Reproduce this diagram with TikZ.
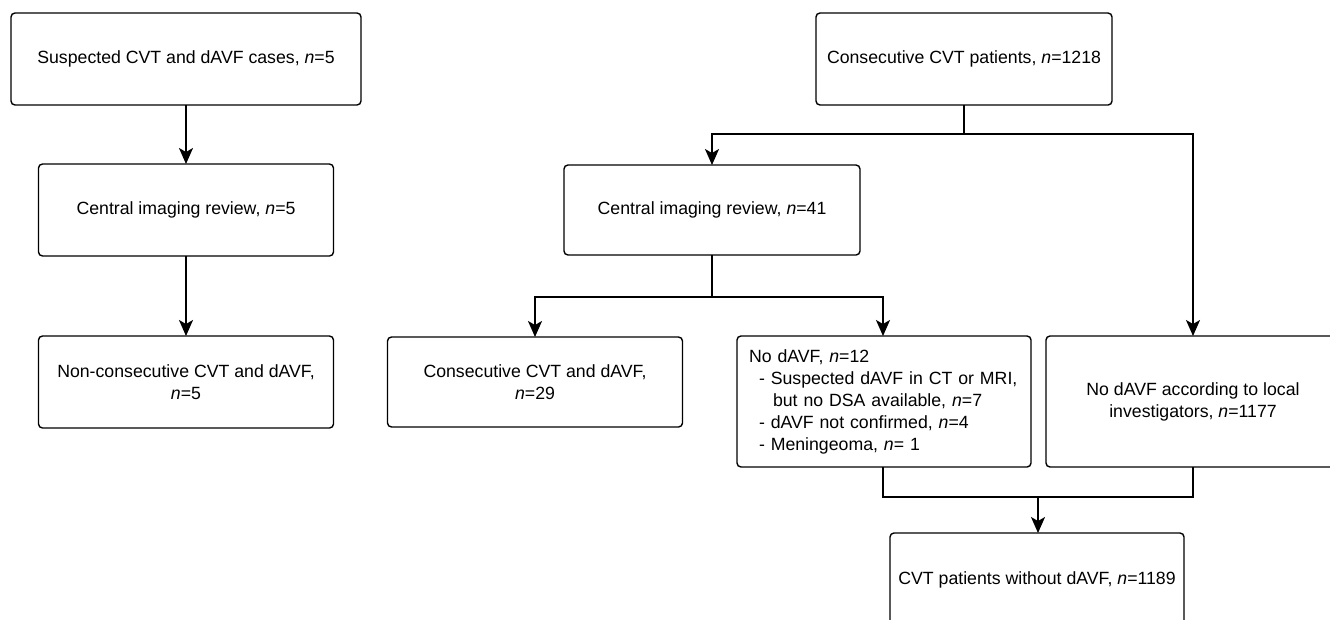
\documentclass[tikz,border=0pt]{standalone}
\usepackage{fontspec}
\setmainfont{Liberation Sans}
\usetikzlibrary{arrows.meta}
\tikzset{
  box/.style={draw, rounded corners=4pt, line width=1.4pt, outer sep=0pt, inner sep=4pt,
    align=center, font=\fontsize{17.7}{22}\selectfont, minimum width=295pt, minimum height=92pt},
  conn/.style={line width=1.8pt},
  arr/.style={conn, -{Stealth[length=16pt,width=14pt,inset=4pt]}}
}
\newcommand{\nn}{\textit{n}}
\begin{document}
\begin{tikzpicture}[x=1pt,y=-1pt]
\useasboundingbox (0,0) rectangle (1330,619);
\clip (0,0) rectangle (1330,619);
\fill[white] (0,0) rectangle (1330,619);
% left column
\node[box, minimum width=350pt] (A) at (186,59) {Suspected CVT and dAVF cases, \nn=5};
\node[box] (B) at (186,210) {Central imaging review, \nn=5};
\node[box] (C) at (186,382) {Non-consecutive CVT and dAVF,\\\nn=5};
% right part
\node[box, minimum width=296pt] (D) at (964,59) {Consecutive CVT patients, \nn=1218};
\node[box, minimum width=296pt, minimum height=90pt] (E) at (712,210) {Central imaging review, \nn=41};
\node[box, minimum height=90pt] (F) at (535,382) {Consecutive CVT and dAVF,\\\nn=29};
\node[box, minimum width=294pt, minimum height=131pt, text width=284pt, inner xsep=5pt, inner ysep=8pt, align=left] (G) at (884,401.5)
  {\hspace*{7pt}No dAVF, \nn=12\\
   \hspace*{17pt}- Suspected dAVF in CT or MRI,\\
   \hspace*{31pt}but no DSA available, \nn=7\\
   \hspace*{17pt}- dAVF not confirmed, \nn=4\\
   \hspace*{17pt}- Meningeoma, \nn= 1};
\node[box, minimum width=294pt, minimum height=131pt] (H) at (1193,401.5) {No dAVF according to local\\investigators, \nn=1177};
\node[box, minimum width=294pt, minimum height=94pt] (I) at (1037,580) {CVT patients without dAVF, \nn=1189};
% junctions
\coordinate (jD) at (964,134);
\coordinate (jE) at (712,297);
\coordinate (jI) at (1038,497);
% connectors
\draw[arr] (A.south) -- (B.north);
\draw[arr] (B.south) -- (C.north);
\draw[conn] (D.south) -- (jD);
\draw[arr] (jD) -| (E.north);
\draw[arr] (jD) -| (H.north);
\draw[conn] (E.south) -- (jE);
\draw[arr] (jE) -| (F.north);
\draw[arr] (jE) -| ([xshift=-1pt]G.north);
\draw[conn] ([xshift=-1pt]G.south) |- (jI);
\draw[conn] (H.south) |- (jI);
\draw[arr] (jI) -- (jI |- I.north);
\end{tikzpicture}
\end{document}
